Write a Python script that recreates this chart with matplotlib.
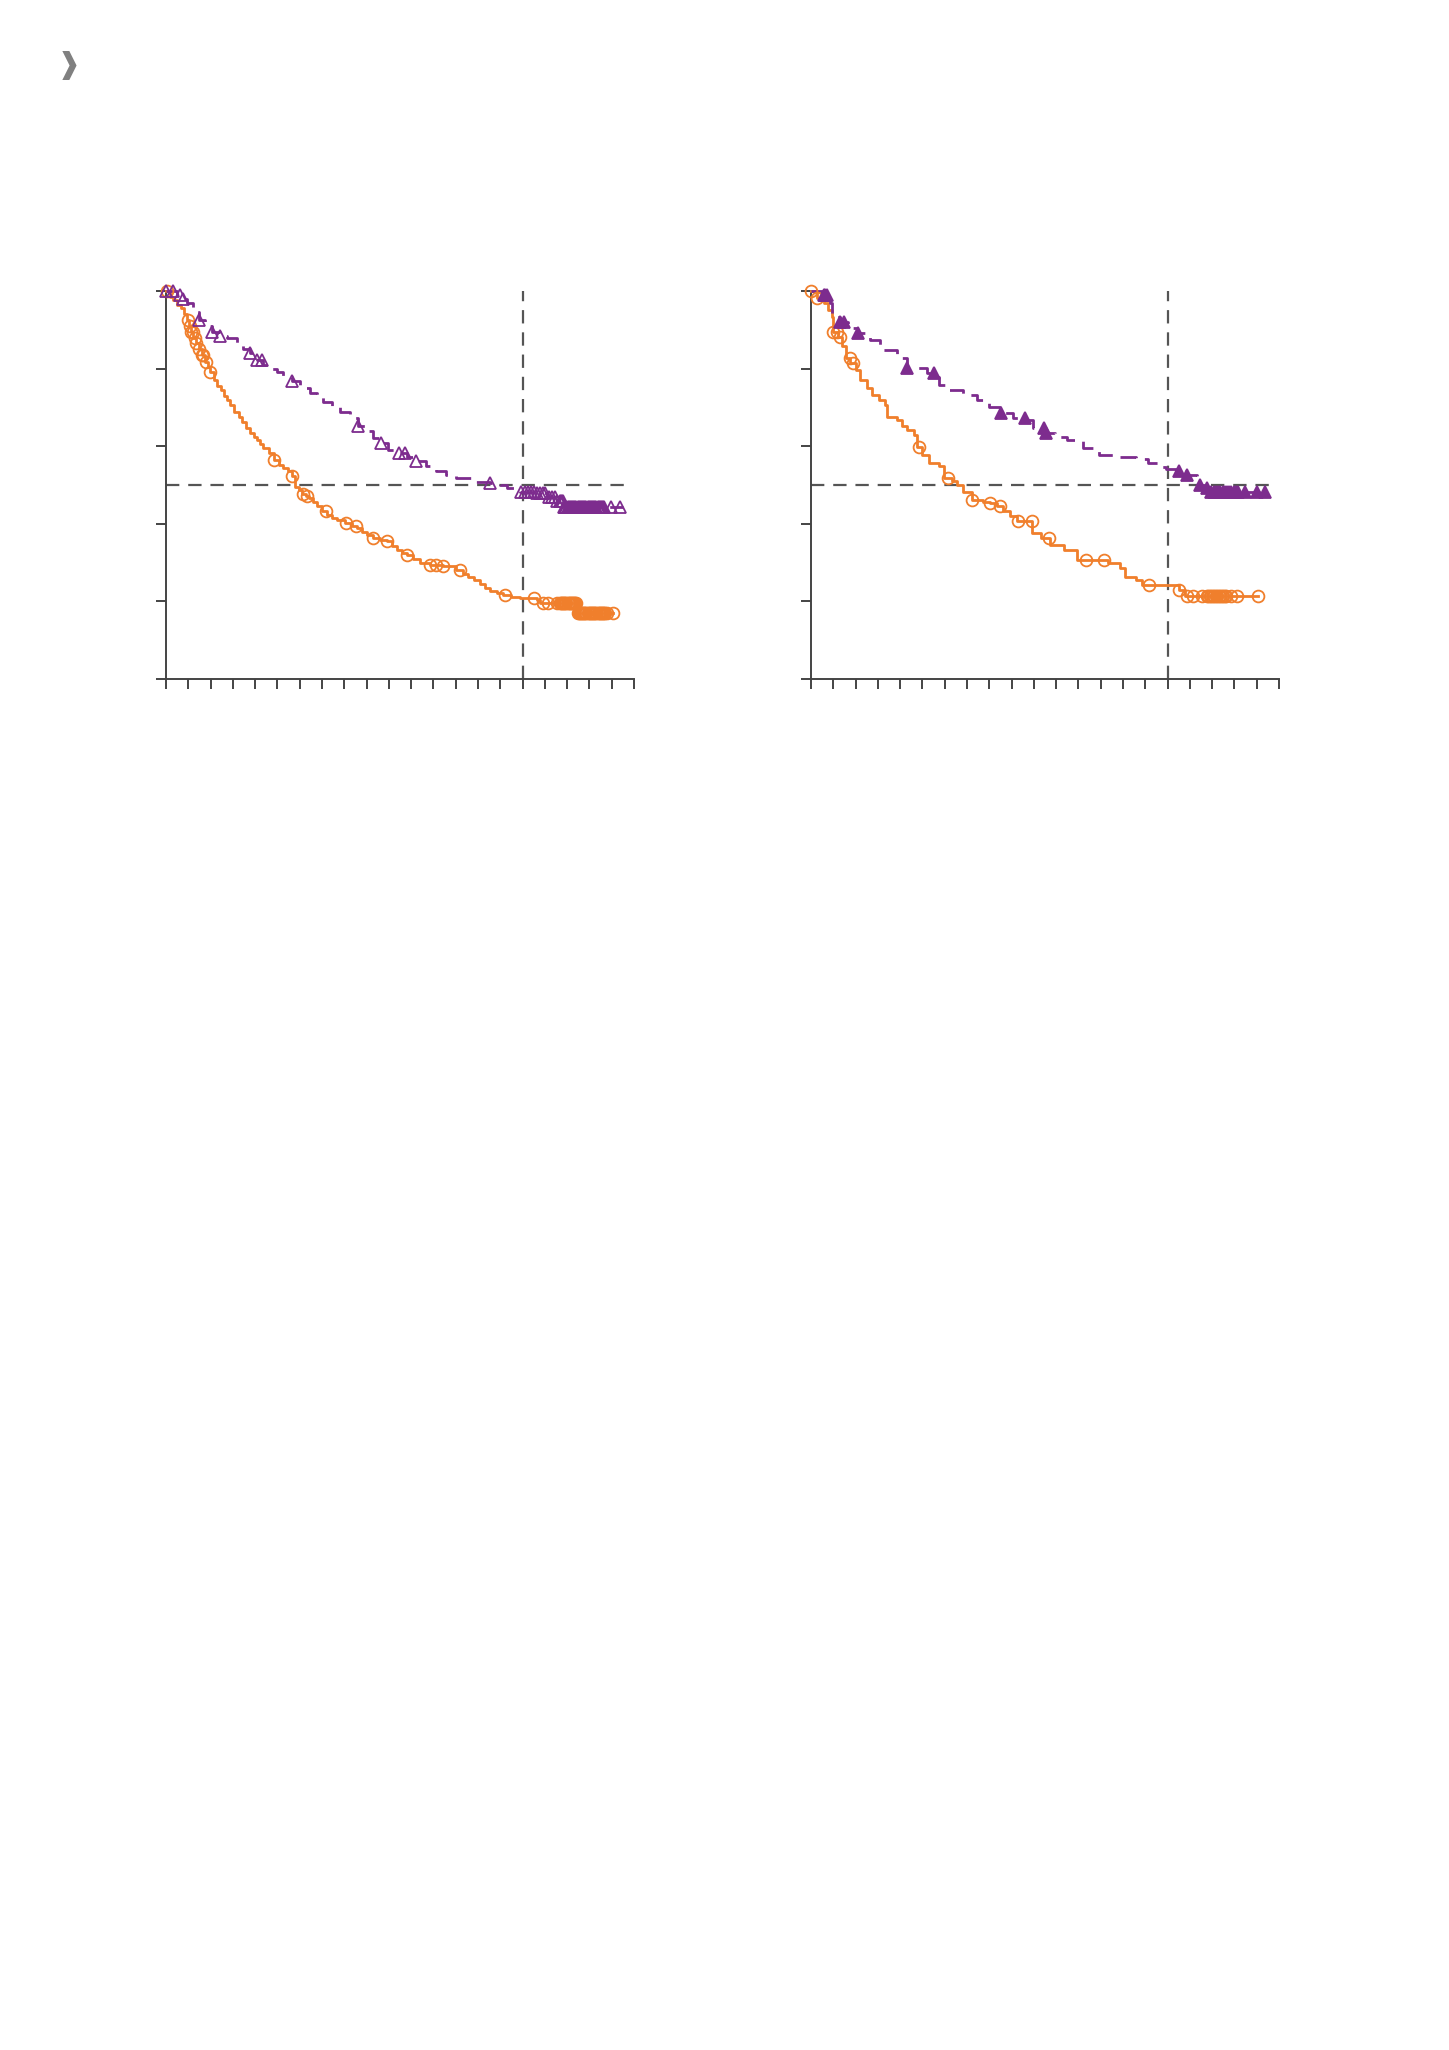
import numpy as np
import matplotlib
matplotlib.use('Agg')
import matplotlib.pyplot as plt

# Kaplan-Meier style curves, months on x, survival probability on y
x_ticks = np.arange(0, 64, 3)
median_line = 0.5
landmark_month = 48

# left panel, orange (solid, open circles)
l_or_t = [0, 0.6, 1.0, 1.5, 2.0, 2.4, 2.8, 3.1, 3.4, 3.7, 4.0, 4.4, 4.8, 5.2, 5.6, 5.9,
          6.4, 6.9, 7.4, 7.8, 8.2, 8.6, 9.2, 9.8, 10.2, 10.8, 11.3, 11.8, 12.2, 12.7, 13.1,
          13.8, 14.5, 15.2, 15.8, 16.4, 16.9, 17.4, 17.9, 18.3, 18.8, 19.3, 19.8, 20.3,
          21.0, 21.7, 22.4, 23.0, 24.1, 25.0, 25.7, 26.4, 27.0, 27.9, 28.8, 29.7, 30.4,
          31.1, 31.8, 32.4, 33.3, 34.2, 35.5, 37.3, 39.1, 40.0, 40.7, 41.4, 42.3, 43.0,
          43.6, 44.5, 45.4, 46.5, 47.7, 49.9, 50.3, 55.3, 60.2]
l_or_s = [1.0, 0.985, 0.977, 0.965, 0.955, 0.942, 0.925, 0.91, 0.895, 0.88, 0.865, 0.85,
          0.835, 0.818, 0.805, 0.79, 0.771, 0.755, 0.745, 0.73, 0.719, 0.705, 0.689, 0.675,
          0.663, 0.648, 0.633, 0.624, 0.616, 0.605, 0.595, 0.582, 0.565, 0.552, 0.543,
          0.535, 0.522, 0.496, 0.486, 0.477, 0.471, 0.466, 0.455, 0.445, 0.434, 0.423,
          0.416, 0.410, 0.402, 0.395, 0.389, 0.38, 0.372, 0.363, 0.359, 0.355, 0.344,
          0.333, 0.326, 0.320, 0.31, 0.299, 0.294, 0.290, 0.282, 0.270, 0.262, 0.256,
          0.245, 0.235, 0.228, 0.222, 0.217, 0.212, 0.209, 0.204, 0.196, 0.170, 0.170]
l_or_cens = [0.1, 3.0, 3.2, 3.4, 3.6, 3.9, 4.1, 4.5, 4.8, 5.0, 5.4, 5.9, 14.5, 16.9, 18.4,
             19.0, 21.6, 24.2, 25.6, 27.9, 29.7, 32.4, 35.5, 36.4, 37.3, 39.6, 45.6, 49.6,
             50.8, 51.4, 52.6, 53.0, 53.15, 53.3, 53.45, 53.6, 53.75, 53.9, 54.05, 54.2,
             54.35, 54.5, 54.65, 54.8, 54.95, 55.1, 55.25, 55.4, 55.55, 55.7, 55.85, 56.0,
             56.15, 56.3, 56.45, 56.6, 56.75, 56.9, 57.05, 57.2, 57.35, 57.5, 57.65, 57.8,
             57.95, 58.1, 58.25, 58.4, 58.55, 58.7, 58.85, 59.0, 59.15, 59.3, 60.2]

# left panel, purple (dashed, open triangles)
l_pu_t = [0, 1.5, 2.2, 2.8, 3.6, 4.4, 5.3, 6.2, 7.3, 8.2, 9.5, 10.4, 11.3, 12.2, 13.1,
          14.0, 14.9, 15.8, 16.9, 18.0, 19.4, 20.3, 21.2, 22.3, 23.4, 24.8, 25.9, 27.0,
          27.9, 29.0, 29.9, 31.2, 32.4, 33.7, 35.0, 36.4, 37.7, 39.0, 41.4, 43.6, 45.0,
          45.9, 47.7, 49.9, 51.3, 52.6, 53.5, 61.5]
l_pu_s = [1.0, 0.99, 0.98, 0.968, 0.945, 0.925, 0.91, 0.895, 0.884, 0.878, 0.861, 0.85,
          0.839, 0.822, 0.809, 0.8, 0.792, 0.779, 0.767, 0.749, 0.736, 0.728, 0.715, 0.702,
          0.689, 0.672, 0.651, 0.638, 0.621, 0.608, 0.591, 0.582, 0.573, 0.561, 0.548,
          0.535, 0.526, 0.518, 0.509, 0.505, 0.500, 0.492, 0.483, 0.479, 0.470, 0.458,
          0.443, 0.443]
l_pu_cens = [0.0, 1.0, 1.9, 2.3, 4.4, 6.2, 7.3, 11.3, 12.2, 12.9, 16.9, 25.9, 29.0, 31.3,
             32.2, 33.7, 43.6, 47.8, 48.3, 48.7, 49.2, 49.6, 50.0, 50.3, 50.7, 51.0, 51.5,
             51.9, 52.3, 52.6, 53.0, 53.15, 53.3, 53.45, 53.6, 53.75, 53.9, 54.05, 54.2,
             54.35, 54.5, 54.65, 54.8, 54.95, 55.1, 55.25, 55.4, 55.55, 55.7, 55.85, 56.0,
             56.15, 56.3, 56.45, 56.6, 56.75, 56.9, 57.05, 57.2, 57.35, 57.5, 57.65, 57.8,
             57.95, 58.1, 58.25, 58.4, 58.55, 58.7, 58.85, 59.0, 59.9, 61.1]

# right panel, orange (solid, open circles)
r_or_t = [0, 0.8, 1.7, 2.3, 2.8, 3.0, 3.7, 4.2, 4.7, 5.3, 6.0, 6.6, 7.5, 8.2, 9.1, 10.0,
          10.2, 11.6, 12.2, 12.9, 13.8, 14.3, 15.0, 15.9, 17.2, 17.9, 19.0, 19.7, 20.5,
          21.7, 23.2, 24.1, 25.0, 25.9, 26.8, 27.7, 29.8, 30.9, 32.2, 34.0, 35.8, 40.0,
          41.6, 42.3, 43.7, 44.6, 49.6, 50.4, 60.2]
r_or_s = [1.0, 0.981, 0.968, 0.95, 0.934, 0.895, 0.882, 0.857, 0.827, 0.814, 0.797, 0.771,
          0.749, 0.732, 0.719, 0.706, 0.676, 0.668, 0.651, 0.642, 0.629, 0.599, 0.578,
          0.556, 0.548, 0.518, 0.51, 0.50, 0.483, 0.462, 0.457, 0.453, 0.445, 0.432, 0.42,
          0.406, 0.376, 0.363, 0.346, 0.333, 0.307, 0.299, 0.286, 0.264, 0.256, 0.243,
          0.230, 0.215, 0.215]
r_or_cens = [0.0, 0.8, 3.0, 3.5, 3.9, 5.2, 5.7, 14.5, 18.4, 21.7, 24.1, 25.4, 27.8, 29.7,
             32.1, 37.0, 39.4, 45.5, 49.6, 50.6, 51.4, 52.6, 53.3, 53.5, 53.7, 53.9, 54.1,
             54.3, 54.5, 54.7, 54.9, 55.1, 55.3, 55.5, 55.7, 55.9, 56.6, 57.4, 60.2]

# right panel, purple (dashed, filled triangles)
r_pu_t = [0, 1.5, 2.6, 2.8, 3.9, 5.0, 6.2, 8.0, 9.3, 11.6, 12.9, 15.6, 16.7, 17.2, 18.3,
          20.5, 22.3, 23.9, 25.5, 27.2, 29.0, 29.9, 31.5, 32.8, 34.4, 36.6, 38.8, 41.0,
          43.7, 45.3, 46.8, 47.8, 49.1, 50.5, 51.9, 53.0, 53.6, 61.3]
r_pu_s = [1.0, 0.99, 0.968, 0.934, 0.921, 0.905, 0.891, 0.874, 0.848, 0.827, 0.801, 0.788,
          0.779, 0.758, 0.745, 0.732, 0.719, 0.702, 0.685, 0.672, 0.667, 0.646, 0.633,
          0.625, 0.616, 0.595, 0.578, 0.572, 0.566, 0.556, 0.547, 0.541, 0.535, 0.526,
          0.500, 0.492, 0.483, 0.483]
r_pu_cens = [1.7, 1.9, 2.2, 3.9, 4.5, 6.3, 12.9, 16.6, 25.6, 28.8, 31.3, 31.7, 49.5, 50.6,
             52.4, 53.3, 53.9, 54.2, 54.5, 54.8, 55.1, 55.4, 55.7, 56.0, 56.3, 56.6, 56.9,
             57.2, 57.5, 58.4, 60.0, 61.1]

ORANGE = '#F07F2C'
PURPLE = '#7D2C8E'
REF = '#555555'
AXC = '#444444'


def surv_at(t, s, c):
    idx = np.searchsorted(np.asarray(t), np.asarray(c), side='right') - 1
    return np.asarray(s)[np.clip(idx, 0, len(s) - 1)]


def km_panel(ax, curves):
    ax.axhline(median_line, xmin=0, xmax=62.2 / 63, color=REF, lw=1.6,
               dashes=(6, 4), zorder=1)
    ax.axvline(landmark_month, ymin=0, ymax=1, color=REF, lw=1.6,
               dashes=(6, 4), zorder=1)
    for t, s, cens, color, ls, marker, filled in curves:
        kw = dict(dashes=(6, 3.5)) if ls == 'dash' else {}
        ax.step(t, s, where='post', color=color, lw=2.0, zorder=3, clip_on=False, **kw)
        ax.plot(cens, surv_at(t, s, cens), ls='none', marker=marker, ms=8.5,
                mec=color, mfc=color if filled else 'none', mew=1.3,
                zorder=4, clip_on=False)
    ax.set_xlim(0, 63)
    ax.set_ylim(0, 1)
    ax.set_xticks(x_ticks)
    ax.set_yticks(np.arange(0, 1.01, 0.2))
    ax.tick_params(direction='out', length=7, width=1.4, color=AXC,
                   labelbottom=False, labelleft=False)
    for side in ('top', 'right'):
        ax.spines[side].set_visible(False)
    for side in ('left', 'bottom'):
        ax.spines[side].set_color(AXC)
        ax.spines[side].set_linewidth(1.4)


W, H = 1449, 2050
fig = plt.figure(figsize=(W / 100, H / 100), dpi=100)
fig.patch.set_facecolor('white')

ax1 = fig.add_axes([166 / W, 1 - 679 / H, 468 / W, 388 / H])
ax2 = fig.add_axes([811 / W, 1 - 679 / H, 468 / W, 388 / H])

km_panel(ax1, [
    (l_or_t, l_or_s, l_or_cens, ORANGE, 'solid', 'o', False),
    (l_pu_t, l_pu_s, l_pu_cens, PURPLE, 'dash', '^', False),
])
km_panel(ax2, [
    (r_or_t, r_or_s, r_or_cens, ORANGE, 'solid', 'o', False),
    (r_pu_t, r_pu_s, r_pu_cens, PURPLE, 'dash', '^', True),
])

# small section marker at top left
fig.text(68.5 / W, 1 - 65 / H, '\u2771', color='#808080', fontsize=21,
         fontweight='bold', ha='center', va='center', family='DejaVu Sans')

fig.savefig('out.png', dpi=100)
